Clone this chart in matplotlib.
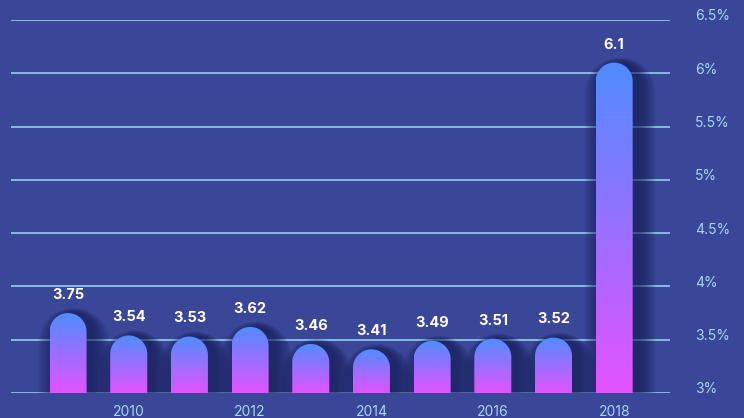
import numpy as np
import matplotlib
matplotlib.use("Agg")
from matplotlib import pyplot as plt
from matplotlib.path import Path
from matplotlib.patches import PathPatch
from matplotlib.colors import LinearSegmentedColormap
from matplotlib.transforms import ScaledTranslation

years = [2009, 2010, 2011, 2012, 2013, 2014, 2015, 2016, 2017, 2018]
rates = [3.75, 3.54, 3.53, 3.62, 3.46, 3.41, 3.49, 3.51, 3.52, 6.1]
tick_years = [2010, 2012, 2014, 2016, 2018]
yticks = [3, 3.5, 4, 4.5, 5, 5.5, 6, 6.5]
ytick_labels = ["3%", "3.5%", "4%", "4.5%", "5%", "5.5%", "6%", "6.5%"]

bg = "#3a4697"
grid_c = "#90d0ea"
tick_c = "#a6d6f2"
cmap = LinearSegmentedColormap.from_list("barg", ["#e452ff", "#4f8dff"])

fig = plt.figure(figsize=(7.44, 4.18), dpi=100)
fig.patch.set_facecolor(bg)
ax = fig.add_axes([11 / 744, 25 / 418, 659 / 744, 373 / 418])
ax.set_facecolor(bg)

ymin, ymax = 3.0, 6.5
ax.set_xlim(-0.94, 9.92)
ax.set_ylim(ymin, ymax)

# pixel scale for round caps
px_x = 659 / (9.92 + 0.94)
px_y = 373 / (ymax - ymin)
w = 0.61
rx = w / 2


def bar_path(xc, top, dx_px=0.0, grow_px=0.0):
    r = rx + grow_px / px_x
    ry = r * px_x / px_y
    cx = xc + dx_px / px_x
    t = top + grow_px / px_y * 0.3
    ang = np.linspace(0, np.pi, 40)
    verts = [(cx + r, ymin), (cx + r, t - ry)]
    verts += [(cx + r * np.cos(a), t - ry + ry * np.sin(a)) for a in ang]
    verts += [(cx - r, ymin), (cx + r, ymin)]
    codes = [Path.MOVETO] + [Path.LINETO] * (len(verts) - 2) + [Path.CLOSEPOLY]
    return Path(verts, codes)


for y in yticks:
    ax.axhline(y, color=grid_c, lw=1.2, zorder=0.5)

grad = np.linspace(0, 1, 256).reshape(-1, 1)
for i, v in enumerate(rates):
    # soft shadow
    for k in range(10, 0, -1):
        sp = PathPatch(bar_path(i, v, dx_px=6, grow_px=k * 1.7),
                       facecolor="#121850", edgecolor="none", alpha=0.085, zorder=1)
        ax.add_patch(sp)
    patch = PathPatch(bar_path(i, v), facecolor="none", edgecolor="none", zorder=2)
    ax.add_patch(patch)
    im = ax.imshow(grad, cmap=cmap, aspect="auto", origin="lower",
                   extent=[i - rx, i + rx, ymin, v], zorder=2)
    im.set_clip_path(patch)
    ax.annotate(f"{v:g}", (i, v), xytext=(0, 8), textcoords="offset points",
                ha="center", va="bottom", color="white", fontsize=10.5,
                fontweight="bold", family="Inter", zorder=3)

ax.set_xlim(-0.94, 9.92)
ax.set_ylim(ymin, ymax)

ax.set_xticks([years.index(t) for t in tick_years])
ax.set_xticklabels([str(t) for t in tick_years], color=tick_c, fontsize=10, family="Inter")
ax.yaxis.tick_right()
ax.set_yticks(yticks)
ax.set_yticklabels(ytick_labels, color=tick_c, fontsize=10, family="Inter")
ax.tick_params(axis="both", length=0)
ax.tick_params(axis="x", pad=9)
ax.tick_params(axis="y", pad=18)
shift = ScaledTranslation(0, 5 / 100, fig.dpi_scale_trans)
for lab in ax.get_yticklabels():
    lab.set_transform(lab.get_transform() + shift)
for s in ax.spines.values():
    s.set_visible(False)

fig.savefig("out.png", dpi=100, facecolor=bg)
